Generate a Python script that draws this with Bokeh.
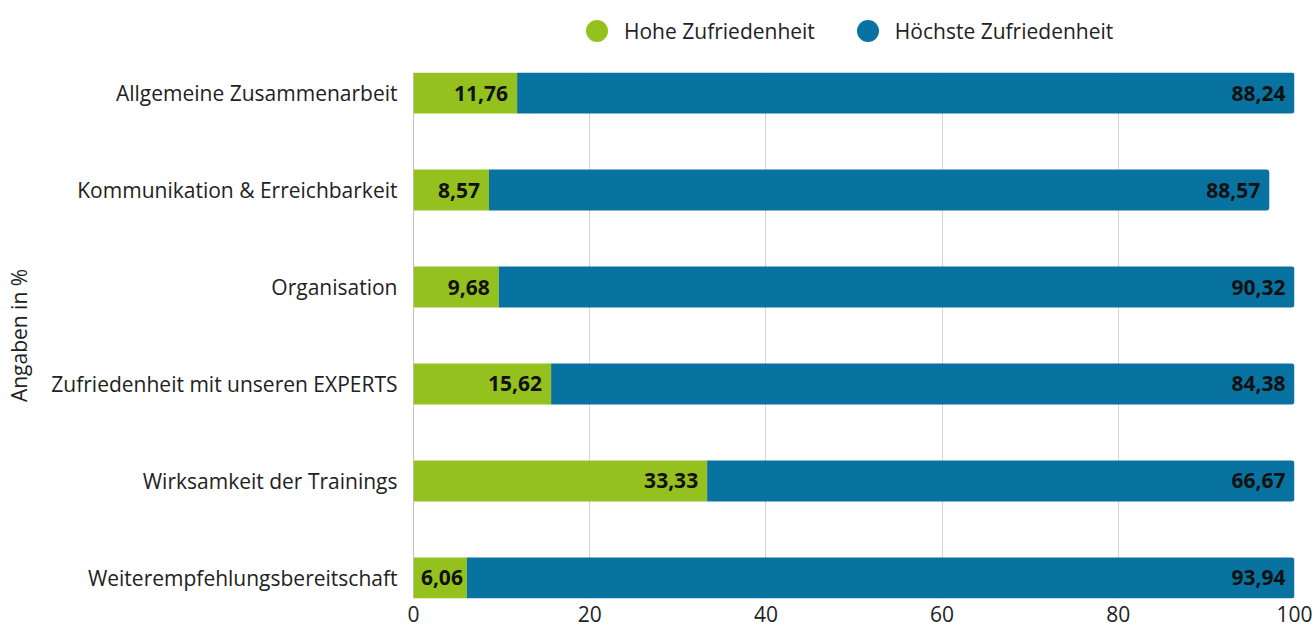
from bokeh.plotting import figure
from bokeh.layouts import column
from bokeh.models import ColumnDataSource, FixedTicker, Range1d, Legend, LegendItem, Span
from bokeh.core.properties import value
from bokeh.embed import file_html
from bokeh.resources import INLINE

categories = ["Allgemeine Zusammenarbeit", "Kommunikation & Erreichbarkeit", "Organisation",
              "Zufriedenheit mit unseren EXPERTS", "Wirksamkeit der Trainings",
              "Weiterempfehlungsbereitschaft"]
hohe = [11.76, 8.57, 9.68, 15.62, 33.33, 6.06]
hoechste = [88.24, 88.57, 90.32, 84.38, 66.67, 93.94]
series_names = ["Hohe Zufriedenheit", "Höchste Zufriedenheit"]
x_ticks = [0, 20, 40, 60, 80, 100]
axis_title = "Angaben in %"

GREEN = "#95C11F"
BLUE = "#0873A0"
FONT = "Open Sans"
FS = "21px"

W, H, TOP = 1312, 628, 72

n = len(categories)
ypos = [n - 1 - i for i in range(n)]
bar_h = 0.423
total = [a + b for a, b in zip(hohe, hoechste)]
fmt = lambda v: f"{v:.2f}".replace(".", ",")

src = ColumnDataSource(dict(
    y=ypos, hohe=hohe, hoechste=hoechste, total=total,
    lab_h=[fmt(v) for v in hohe], lab_b=[fmt(v) for v in hoechste],
    off_h=[-4 if v < 8 else -9 for v in hohe],
))

# ---- legend strip ----
lg = figure(width=W, height=TOP, output_backend="svg", toolbar_location=None,
            x_range=Range1d(0, W), y_range=Range1d(0, TOP),
            min_border=0, x_axis_type=None, y_axis_type=None)
lg.outline_line_color = None
lg.grid.grid_line_color = None
r1 = lg.scatter(x=[-1000], y=[-1000], marker="circle", fill_color=GREEN, line_color=None)
r2 = lg.scatter(x=[-1000], y=[-1000], marker="circle", fill_color=BLUE, line_color=None)
legend = Legend(items=[LegendItem(label=series_names[0], renderers=[r1]),
                       LegendItem(label=series_names[1], renderers=[r2])],
                orientation="horizontal", glyph_width=55, glyph_height=55, label_standoff=-9,
                spacing=25, padding=0, margin=0, border_line_color=None,
                background_fill_alpha=0, label_text_font=FONT, label_text_font_size=FS,
                label_text_color="#222222", location=(156, 14))
lg.add_layout(legend)

# ---- main chart ----
p = figure(width=W, height=H - TOP, output_backend="svg", toolbar_location=None,
           x_range=Range1d(0, 100), y_range=Range1d(-bar_h / 2, n - 1 + bar_h / 2),
           min_border_left=413, min_border_right=18, min_border_top=0, min_border_bottom=30)
p.outline_line_color = None

p.hbar(y="y", left=0, right="hohe", height=bar_h, source=src, fill_color=GREEN, line_color=None)
p.hbar(y="y", left="hohe", right="total", height=bar_h, source=src, fill_color=BLUE,
       line_color=None, border_radius=(0, 3, 3, 0))

p.text(x="hohe", y="y", text="lab_h", source=src, x_offset="off_h", text_align="right",
       text_baseline="middle", text_font=value(FONT), text_font_style="bold",
       text_font_size=FS, text_color="#111111")
p.text(x="total", y="y", text="lab_b", source=src, x_offset=-9, text_align="right",
       text_baseline="middle", text_font=value(FONT), text_font_style="bold",
       text_font_size=FS, text_color="#111111")

p.add_layout(Span(location=0, dimension="height", line_color="#888888", line_width=1, level="underlay"))

p.ygrid.grid_line_color = None
p.xgrid.ticker = FixedTicker(ticks=x_ticks)
p.xgrid.grid_line_color = "#d4d4d4"

p.yaxis.ticker = FixedTicker(ticks=ypos)
p.yaxis.major_label_overrides = {y: c for y, c in zip(ypos, categories)}
p.yaxis.axis_line_color = None
p.yaxis.major_tick_line_color = None
p.yaxis.major_tick_out = 0
p.yaxis.major_tick_in = 0
p.yaxis.minor_tick_line_color = None
p.yaxis.major_label_standoff = 16
p.yaxis.major_label_text_font = FONT
p.yaxis.major_label_text_font_size = FS
p.yaxis.major_label_text_color = "#222222"
p.yaxis.axis_label = axis_title
p.yaxis.axis_label_text_font = FONT
p.yaxis.axis_label_text_font_style = "normal"
p.yaxis.axis_label_text_font_size = FS
p.yaxis.axis_label_text_color = "#222222"
p.yaxis.axis_label_standoff = 15

p.xaxis.ticker = FixedTicker(ticks=x_ticks)
p.xaxis.axis_line_color = None
p.xaxis.major_tick_line_color = None
p.xaxis.major_tick_out = 0
p.xaxis.major_tick_in = 0
p.xaxis.minor_tick_line_color = None
p.xaxis.major_label_standoff = 7
p.xaxis.major_label_text_font = FONT
p.xaxis.major_label_text_font_size = FS
p.xaxis.major_label_text_color = "#222222"

layout = column(lg, p, spacing=0)
open("out.html", "w").write(file_html(layout, INLINE))
